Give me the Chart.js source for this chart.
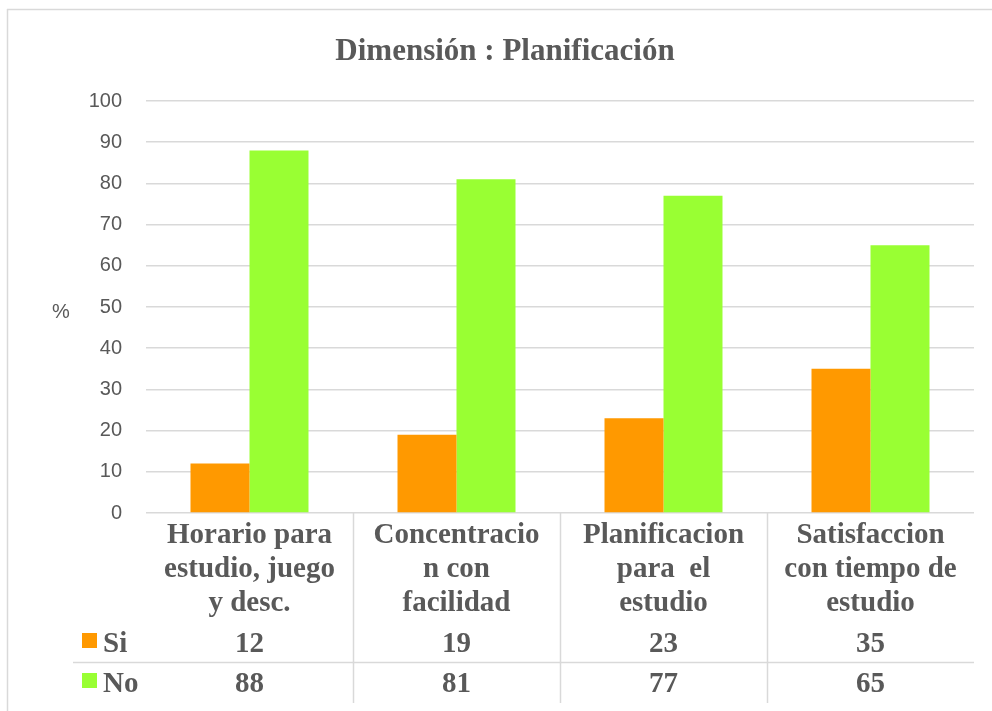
<!DOCTYPE html>
<html>
<head>
<meta charset="utf-8">
<script src="https://cdn.jsdelivr.net/npm/chart.js@4"></script>
<style>
  html, body { margin: 0; padding: 0; background: #fff; }
  #wrap { width: 992px; height: 711px; position: relative; }
</style>
</head>
<body>
<div id="wrap"><canvas id="myChart" width="992" height="711"></canvas></div>
<script>
const ctx = document.getElementById('myChart').getContext('2d');

// data
const categories = [
    ['Horario para', 'estudio, juego', 'y desc.'],
    ['Concentracio', 'n con', 'facilidad'],
    ['Planificacion', 'para  el', 'estudio'],
    ['Satisfaccion', 'con tiempo de', 'estudio']
];
const siValues = [12, 19, 23, 35];
const noValues = [88, 81, 77, 65];
const seriesNames = ['Si', 'No'];
const titleText = 'Dimensión : Planificación';
const yLabel = '%';

const orange = '#FF9900';
const green = '#99FF33';
const textColor = '#595959';
const lineColor = '#d9d9d9';

// title, frame, y label and the data table under the plot
const tablePlugin = {
    id: 'tablePlugin',
    beforeDraw(chart) {
        const c = chart.ctx;
        c.save();
        c.strokeStyle = lineColor;
        c.lineWidth = 1.5;
        c.beginPath();
        c.moveTo(7, 9.5); c.lineTo(992, 9.5);
        c.moveTo(7.5, 9); c.lineTo(7.5, 711);
        c.stroke();
        c.restore();
    },
    afterDraw(chart) {
        const c = chart.ctx;
        const x = chart.scales.x;
        const area = chart.chartArea;
        c.save();

        // title
        c.fillStyle = textColor;
        c.font = 'bold 31px "Liberation Serif"';
        c.textAlign = 'center';
        c.textBaseline = 'alphabetic';
        c.fillText(titleText, 505, 60);

        // y label
        c.font = '20px "Liberation Sans"';
        c.textAlign = 'left';
        c.textBaseline = 'middle';
        c.fillText(yLabel, 52, 312);

        // table lines
        c.strokeStyle = lineColor;
        c.lineWidth = 1.5;
        c.beginPath();
        for (let i = 0; i < categories.length - 1; i++) {
            const bx = Math.round((x.getPixelForValue(i) + x.getPixelForValue(i + 1)) / 2) + 0.5;
            c.moveTo(bx, area.bottom);
            c.lineTo(bx, 703);
        }
        c.moveTo(73, 662.5);
        c.lineTo(area.right, 662.5);
        c.stroke();

        // header labels
        c.font = 'bold 29px "Liberation Serif"';
        c.textAlign = 'center';
        c.textBaseline = 'alphabetic';
        const lineBase = [543, 577, 611];
        categories.forEach(function(lines, i) {
            const cx = x.getPixelForValue(i);
            lines.forEach(function(t, j) {
                c.fillText(t, cx, lineBase[j]);
            });
        });

        // value rows
        const rows = [siValues, noValues];
        const rowBase = [652, 692];
        const rowColors = [orange, green];
        rows.forEach(function(vals, r) {
            c.fillStyle = rowColors[r];
            c.fillRect(82, rowBase[r] - 19, 15, 15);
            c.fillStyle = textColor;
            c.textAlign = 'left';
            c.fillText(seriesNames[r], 103, rowBase[r]);
            c.textAlign = 'center';
            vals.forEach(function(v, i) {
                c.fillText(String(v), x.getPixelForValue(i), rowBase[r]);
            });
        });
        c.restore();
    }
};

const config = {
    type: 'bar',
    data: {
        labels: categories.map(function(l) { return l.join(' '); }),
        datasets: [{
            label: seriesNames[0],
            data: siValues,
            backgroundColor: orange,
            categoryPercentage: 0.57,
            barPercentage: 1
        }, {
            label: seriesNames[1],
            data: noValues,
            backgroundColor: green,
            categoryPercentage: 0.57,
            barPercentage: 1
        }]
    },
    options: {
        responsive: false,
        animation: false,
        layout: {
            autoPadding: false,
            padding: { top: 101, bottom: 198, left: 0, right: 18 }
        },
        scales: {
            x: {
                display: false
            },
            y: {
                min: 0,
                max: 100,
                border: { display: false },
                grid: {
                    color: lineColor,
                    lineWidth: 1.5,
                    drawTicks: false
                },
                ticks: {
                    stepSize: 10,
                    padding: 24,
                    color: textColor,
                    font: { family: '"Liberation Sans"', size: 20 }
                },
                afterFit: function(scale) { scale.width = 146; }
            }
        },
        plugins: {
            legend: { display: false },
            title: { display: false },
            tooltip: { enabled: false }
        }
    },
    plugins: [tablePlugin]
};

const myChart = new Chart(ctx, config);
</script>
</body>
</html>
